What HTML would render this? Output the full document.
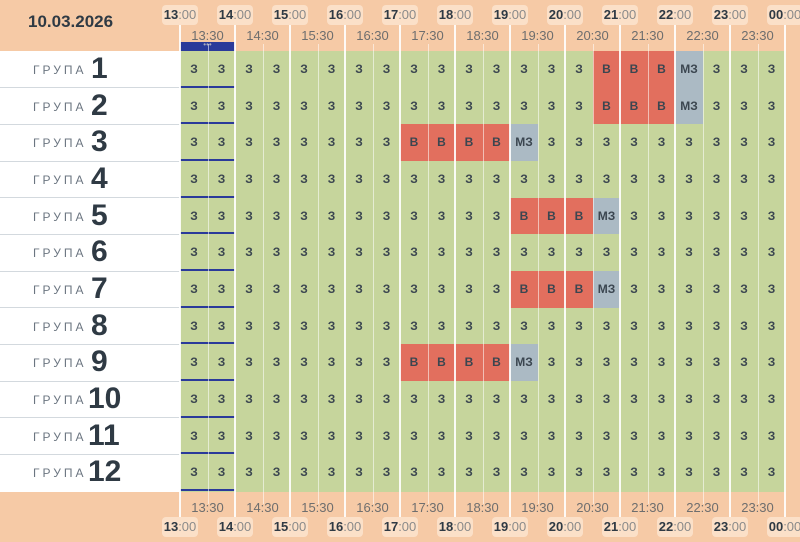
<!DOCTYPE html>
<html><head><meta charset="utf-8"><style>
body{margin:0;width:800px;height:542px;overflow:hidden;background:#f6caa6;font-family:"Liberation Sans","DejaVu Sans",sans-serif;position:relative}
div{position:absolute;box-sizing:border-box}
.lab{left:0;width:180px;background:#fff}
.gr{left:33px;font-size:12px;letter-spacing:3px;color:#6b7580;top:12px}
.num{font-size:30px;font-weight:bold;color:#2f3a44;top:1px}
.c{font-size:12px;font-weight:bold;color:#3b4650;text-align:center}
.hb{background:#fbe0c8;border-radius:4px;font-size:13px;color:#8a8a8a;text-align:center;height:20px;line-height:20px;width:36px}
.hb b{color:#2f3a44}
.hl{font-size:13px;color:#6e6e6e;text-align:center;width:44px}
</style></head><body>
<div style="left:28px;top:12px;font-size:17px;font-weight:bold;color:#2f3a44">10.03.2026</div>
<div id="g"></div>
<script>
var x0=180,cw=27.5,y0=51,rh=36.67,h='';
var spec={1:[15,18],2:[15,18],3:[8,12],5:[12,15],7:[12,15],9:[8,12]};
for(var r=0;r<12;r++){
 var y=y0+r*rh;
 h+='<div class="lab" style="top:'+y+'px;height:'+(rh+0.5)+'px"><div class="gr">ГРУПА</div><div class="num" style="left:'+(r+1>9?88:91)+'px">'+(r+1)+'</div></div>';
 for(var c=0;c<22;c++){
  var x=x0+c*cw,bg='#c6d59c',t='З',s=spec[r+1];
  if(s){if(c>=s[0]&&c<s[1]){bg='#e26f5e';t='В'}else if(c==s[1]){bg='#abbac4';t='МЗ'}}
  h+='<div class="c" style="left:'+x+'px;top:'+y+'px;width:'+(cw+0.5)+'px;height:'+(rh+0.5)+'px;background:'+bg+';line-height:'+rh+'px">'+t+'</div>';
 }
}
for(var r=1;r<12;r++){var y=y0+r*rh;h+='<div style="left:0;width:180px;top:'+(y-0.5)+'px;height:1px;background:#d3d9de"></div>';}
for(var r=0;r<12;r++){var y=y0+r*rh;h+='<div style="left:180px;width:55px;top:'+(y+rh-2)+'px;height:2px;background:#2a3a9a"></div>';}
h+='<div style="left:180px;width:55px;top:42px;height:9px;background:#2a3a9a;color:#aab;font-size:8px;line-height:6px;text-align:center">•••</div>';
for(var c=0;c<=22;c++){
 var x=x0+c*cw;
 if(c%2==0){
  h+='<div style="left:'+(x-1)+'px;top:25px;width:2px;height:492px;background:rgba(255,255,255,0.9)"></div>';
  var hr=(13+c/2)%24;hr=(hr<10?'0':'')+hr;
  h+='<div class="hb" style="left:'+(x-18)+'px;top:5px"><b>'+hr+'</b>:00</div>';
  h+='<div class="hb" style="left:'+(x-18)+'px;top:517px"><b>'+hr+'</b>:00</div>';
 }else{
  h+='<div style="left:'+x+'px;top:44px;width:1px;height:460px;background:rgba(255,255,255,0.55)"></div>';
  var hr=13+(c-1)/2;
  h+='<div class="hl" style="left:'+(x-22)+'px;top:28px">'+hr+':30</div>';
  h+='<div class="hl" style="left:'+(x-22)+'px;top:500px">'+hr+':30</div>';
 }
}
document.getElementById('g').outerHTML=h;
</script>
</body></html>
